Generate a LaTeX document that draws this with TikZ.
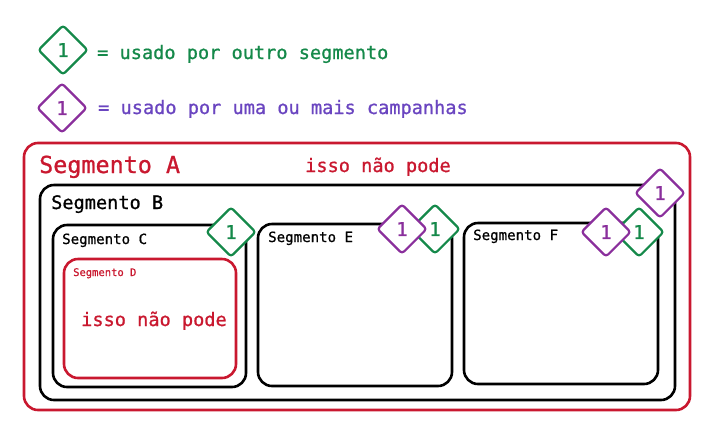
\documentclass[tikz,border=0pt]{standalone}
\usepackage{fontspec}
\setmainfont[RawFeature={embolden=0.9}]{DejaVu Sans Mono}
\usetikzlibrary{shapes.geometric}
\definecolor{cred}{HTML}{C9182F}
\definecolor{cgreen}{HTML}{15894A}
\definecolor{cpurple}{HTML}{8A2F9C}
\definecolor{cindigo}{HTML}{6A45C0}
\tikzset{
 x=1pt,y=-1pt,
 box/.style={rectangle,rounded corners=14pt,inner sep=0pt,line width=2.6pt,draw=#1},
 tag/.style={diamond,aspect=1,rounded corners=3pt,inner sep=0pt,minimum width=50pt,minimum height=50pt,line width=2.2pt,fill=white,draw=#1,text=#1,font=\fontsize{19}{19}\selectfont},
 lab/.style={anchor=base west,inner sep=0pt,text=#1},
 big/.style={font=\fontsize{23.4}{24}\selectfont},
 mid/.style={font=\fontsize{18.6}{20}\selectfont},
 sml/.style={font=\fontsize{14.1}{15}\selectfont},
 tiny/.style={font=\fontsize{10.5}{11}\selectfont},
}
\begin{document}
\begin{tikzpicture}
\useasboundingbox (0,0) rectangle (720,440);
\node[box=cred,minimum width=666pt,minimum height=267pt] (a) at (357,276.5) {};
\node[box=black,minimum width=635pt,minimum height=215pt] (b) at (357.5,292.5) {};
\node[box=black,minimum width=193pt,minimum height=162pt] (c) at (149.5,306) {};
\node[box=cred,minimum width=172pt,minimum height=119pt] (d) at (150,318.5) {};
\node[box=black,minimum width=194pt,minimum height=162pt] (e) at (355,305) {};
\node[box=black,minimum width=194pt,minimum height=161pt] (f) at (561,303.5) {};
\node[lab=cred,big] (ta) at (39,173) {Segmento A};
\node[lab=cred,mid] (tn1) at (305,172) {isso não pode};
\node[lab=black,mid] (tb) at (51,209) {Segmento B};
\node[lab=black,sml] (tc) at (62,244) {Segmento C};
\node[lab=cred,tiny] (td) at (73,276) {Segmento D};
\node[lab=cred,mid] (tn2) at (81,326) {isso não pode};
\node[lab=black,sml] (te) at (268,242) {Segmento E};
\node[lab=black,sml] (tf) at (473,240) {Segmento F};
\node[lab=cgreen,mid] (l1) at (97,59) {= usado por outro segmento};
\node[lab=cindigo,mid] (l2) at (98,114) {= usado por uma ou mais campanhas};
\node[tag=cgreen] (g1) at (63,50) {1};
\node[tag=cpurple] (p1) at (62,108) {1};
\node[tag=cgreen] (gc) at (231,232) {1};
\node[tag=cgreen] (ge) at (435,229) {1};
\node[tag=cpurple] (pe) at (402,229) {1};
\node[tag=cgreen] (gf) at (639,232) {1};
\node[tag=cpurple] (pf) at (606,232) {1};
\node[tag=cpurple] (pb) at (660,193) {1};
\end{tikzpicture}
\end{document}
